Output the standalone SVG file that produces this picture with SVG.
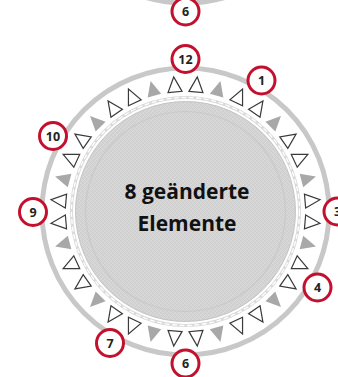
<svg xmlns="http://www.w3.org/2000/svg" xmlns:xlink="http://www.w3.org/1999/xlink" width="338" height="377" viewBox="0 0 338 377">
  <style>
    .ring { fill: none; stroke: #c8c8c8; stroke-width: 5; }
    .o { fill: #ffffff; stroke: #3a3a3a; stroke-width: 1.2; stroke-linejoin: miter; }
    .g { fill: #a8a8a8; stroke: none; }
    .badge circle { fill: #ffffff; stroke: #c3102e; stroke-width: 3; }
    .badge text { font-family: "Open Sans", "DejaVu Sans", sans-serif; font-weight: bold; font-size: 12.5px; fill: #222222; text-anchor: middle; }
    .label { font-family: "Open Sans", "DejaVu Sans", sans-serif; font-weight: bold; font-size: 21px; fill: #111111; text-anchor: middle; }
  </style>
  <defs>
    <path id="tri" d="M178.5,91.5 L192.5,91.5 L185.5,76.5 Z"/>
    <pattern id="tex" width="4" height="4" patternUnits="userSpaceOnUse">
      <rect width="4" height="4" fill="#d3d3d3"/>
      <path d="M0,4 L4,0" stroke="#dcdcdc" stroke-width="0.7"/>
      <path d="M0,0 L4,4" stroke="#c9c9c9" stroke-width="0.5"/>
    </pattern>
  </defs>

  <!-- previous dial (bottom edge) -->
  <g id="prev-dial">
    <circle class="ring" cx="185.5" cy="-140.5" r="143.5"/>
  </g>

  <!-- main dial -->
  <g id="dial">
    <circle class="ring" cx="185.5" cy="211.5" r="143.5"/>
    <circle cx="185.5" cy="211.5" r="114" fill="none" stroke="#d9d9d9" stroke-width="3"/>
    <circle cx="185.5" cy="211.5" r="114" fill="none" stroke="#ffffff" stroke-width="1.3" stroke-dasharray="5 2.5"/>
    <circle cx="185.5" cy="211.5" r="110" fill="url(#tex)" stroke="#c4c4c4" stroke-width="1"/>
    <circle cx="185.5" cy="211.5" r="100" fill="none" stroke="#c9c9c9" stroke-width="1.2"/>
  </g>

  <g id="triangles">
    <use xlink:href="#tri" class="o" transform="rotate(5 185.5 211.5)"/>
    <use xlink:href="#tri" class="g" transform="rotate(15 185.5 211.5)"/>
    <use xlink:href="#tri" class="o" transform="rotate(25 185.5 211.5)"/>
    <use xlink:href="#tri" class="o" transform="rotate(35 185.5 211.5)"/>
    <use xlink:href="#tri" class="g" transform="rotate(45 185.5 211.5)"/>
    <use xlink:href="#tri" class="o" transform="rotate(55 185.5 211.5)"/>
    <use xlink:href="#tri" class="o" transform="rotate(65 185.5 211.5)"/>
    <use xlink:href="#tri" class="g" transform="rotate(75 185.5 211.5)"/>
    <use xlink:href="#tri" class="o" transform="rotate(85 185.5 211.5)"/>
    <use xlink:href="#tri" class="o" transform="rotate(95 185.5 211.5)"/>
    <use xlink:href="#tri" class="g" transform="rotate(105 185.5 211.5)"/>
    <use xlink:href="#tri" class="o" transform="rotate(115 185.5 211.5)"/>
    <use xlink:href="#tri" class="o" transform="rotate(125 185.5 211.5)"/>
    <use xlink:href="#tri" class="g" transform="rotate(135 185.5 211.5)"/>
    <use xlink:href="#tri" class="o" transform="rotate(145 185.5 211.5)"/>
    <use xlink:href="#tri" class="o" transform="rotate(155 185.5 211.5)"/>
    <use xlink:href="#tri" class="g" transform="rotate(165 185.5 211.5)"/>
    <use xlink:href="#tri" class="o" transform="rotate(175 185.5 211.5)"/>
    <use xlink:href="#tri" class="o" transform="rotate(185 185.5 211.5)"/>
    <use xlink:href="#tri" class="g" transform="rotate(195 185.5 211.5)"/>
    <use xlink:href="#tri" class="o" transform="rotate(205 185.5 211.5)"/>
    <use xlink:href="#tri" class="o" transform="rotate(215 185.5 211.5)"/>
    <use xlink:href="#tri" class="g" transform="rotate(225 185.5 211.5)"/>
    <use xlink:href="#tri" class="o" transform="rotate(235 185.5 211.5)"/>
    <use xlink:href="#tri" class="o" transform="rotate(245 185.5 211.5)"/>
    <use xlink:href="#tri" class="g" transform="rotate(255 185.5 211.5)"/>
    <use xlink:href="#tri" class="o" transform="rotate(265 185.5 211.5)"/>
    <use xlink:href="#tri" class="o" transform="rotate(275 185.5 211.5)"/>
    <use xlink:href="#tri" class="g" transform="rotate(285 185.5 211.5)"/>
    <use xlink:href="#tri" class="o" transform="rotate(295 185.5 211.5)"/>
    <use xlink:href="#tri" class="o" transform="rotate(305 185.5 211.5)"/>
    <use xlink:href="#tri" class="g" transform="rotate(315 185.5 211.5)"/>
    <use xlink:href="#tri" class="o" transform="rotate(325 185.5 211.5)"/>
    <use xlink:href="#tri" class="o" transform="rotate(335 185.5 211.5)"/>
    <use xlink:href="#tri" class="g" transform="rotate(345 185.5 211.5)"/>
    <use xlink:href="#tri" class="o" transform="rotate(355 185.5 211.5)"/>
  </g>

  <g id="center-label">
    <text class="label" x="187" y="198.5">8 geänderte</text>
    <text class="label" x="187" y="230.5">Elemente</text>
  </g>

  <g id="badge-prev-6" class="badge"><circle cx="185.5" cy="11.5" r="13.5"/><text x="185.5" y="16">6</text></g>
  <g id="badge-12" class="badge"><circle cx="185.5" cy="59" r="13.5"/><text x="185.5" y="63.5">12</text></g>
  <g id="badge-1" class="badge"><circle cx="261.5" cy="80.5" r="13.5"/><text x="261.5" y="85">1</text></g>
  <g id="badge-3" class="badge"><circle cx="337.5" cy="211.5" r="13.5"/><text x="337.5" y="216">3</text></g>
  <g id="badge-4" class="badge"><circle cx="317.5" cy="287.5" r="13.5"/><text x="317.5" y="292">4</text></g>
  <g id="badge-6" class="badge"><circle cx="185.5" cy="363.5" r="13.5"/><text x="185.5" y="368">6</text></g>
  <g id="badge-7" class="badge"><circle cx="110" cy="343" r="13.5"/><text x="110" y="347.5">7</text></g>
  <g id="badge-9" class="badge"><circle cx="33" cy="212" r="13.5"/><text x="33" y="216.5">9</text></g>
  <g id="badge-10" class="badge"><circle cx="53" cy="136" r="13.5"/><text x="53" y="140.5">10</text></g>
</svg>
